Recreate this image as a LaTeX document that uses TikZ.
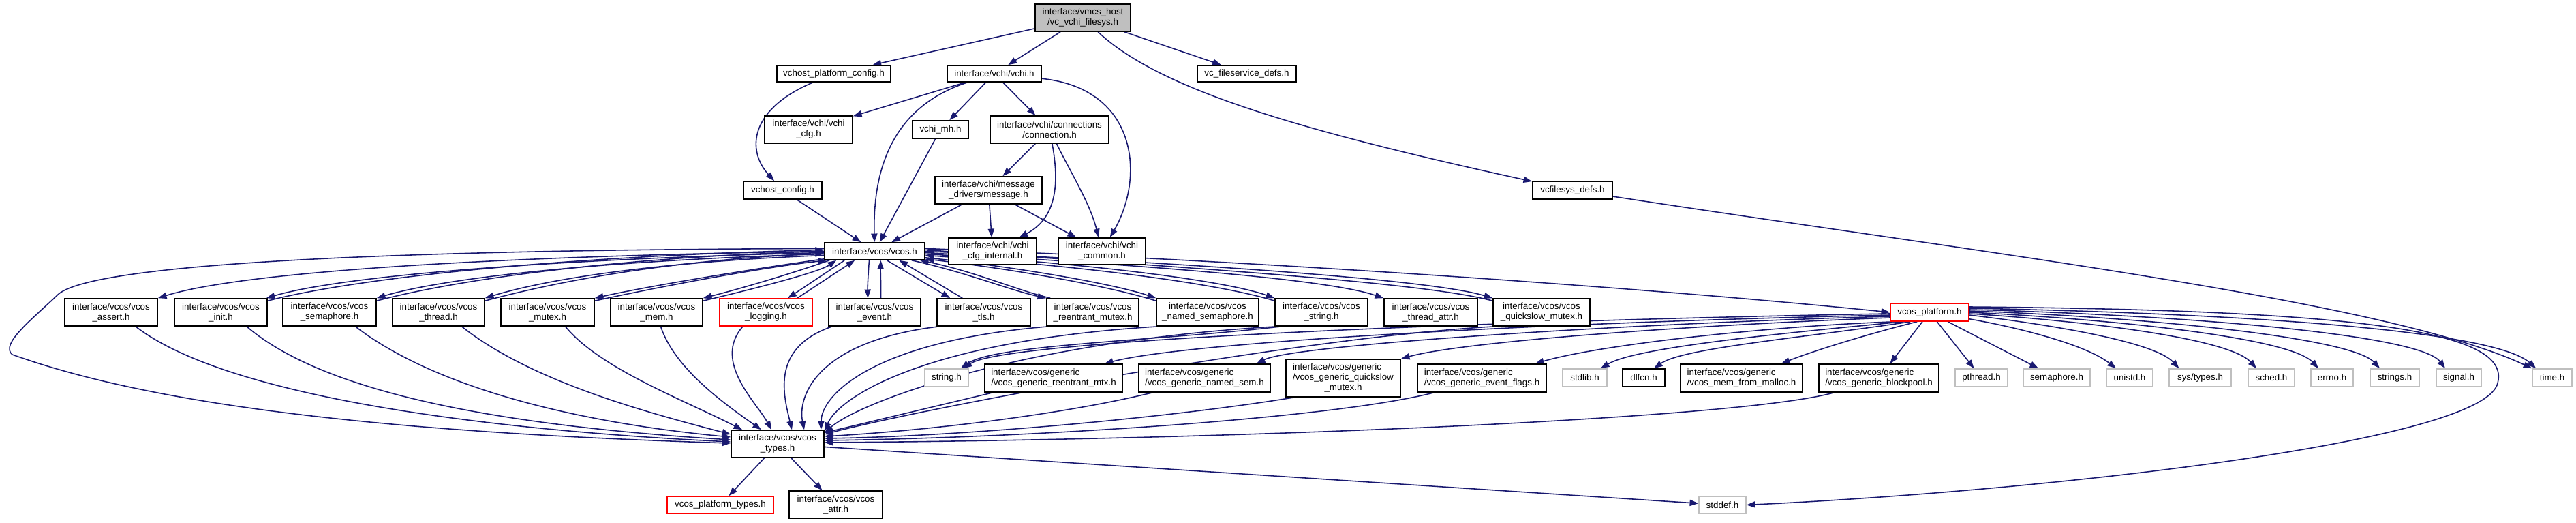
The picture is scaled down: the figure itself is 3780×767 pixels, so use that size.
\documentclass[tikz,border=0pt]{standalone}
\usepackage{fontspec}
\setmainfont{Liberation Sans}
\usetikzlibrary{arrows.meta,calc}
\definecolor{edgec}{HTML}{191970}
\definecolor{grayb}{HTML}{BFBFBF}
\pgfdeclarelayer{bglayer}
\pgfdeclarelayer{edgelayer}
\pgfsetlayers{bglayer,edgelayer,main}
\newcommand\fs{\fontsize{3.8pt}{4.27pt}\selectfont}
\newcommand\bx[7]{\node[#6,minimum width={(#4-#2)*0.28453pt},minimum height={(#5-#3)*0.28453pt}] (#1) at ({(#2+#4)/2},{(#3+#5)/2}) {#7};}
\tikzset{
  box/.style={draw=black, fill=white, line width=0.45pt, inner sep=0pt, align=center, font=\fs},
  lbox/.style={box, align=left},
  sysbox/.style={box, draw=grayb},
  redbox/.style={box, draw=red},
  rootbox/.style={box, fill=grayb},
  e/.style={draw=edgec, line width=0.45pt, -{Triangle[length=3.6pt,width=2.6pt]}},
}
\begin{document}
\begin{tikzpicture}[x=0.01cm,y=-0.01cm]
\begin{pgfonlayer}{bglayer}
\fill[white] (0,0) rectangle (3780,767);
\end{pgfonlayer}
\useasboundingbox (0,0) rectangle (3780,767);
% ---------- nodes ----------
\bx{root}{1519}{6}{1659}{46}{rootbox}{interface/vmcs\_host\\/vc\_vchi\_filesys.h}
\bx{vpc}{1140}{96}{1307}{120}{box}{vchost\_platform\_config.h}
\bx{vchi}{1390}{96}{1528}{120}{box}{interface/vchi/vchi.h}
\bx{vfsd}{1757}{96}{1902}{120}{box}{vc\_fileservice\_defs.h}
\bx{vchicfg}{1122}{170}{1251}{210}{box}{interface/vchi/vchi\\\_cfg.h}
\bx{vchimh}{1339}{177}{1421}{203}{box}{vchi\_mh.h}
\bx{conn}{1453}{170}{1627}{210}{box}{interface/vchi/connections\\/connection.h}
\bx{vhc}{1091}{266}{1206}{292}{box}{vchost\_config.h}
\bx{msg}{1372}{259}{1529}{299}{box}{interface/vchi/message\\\_drivers/message.h}
\bx{vcfs}{2249}{266}{2366}{292}{box}{vcfilesys\_defs.h}
\bx{vcos}{1210}{356}{1357}{381}{box}{interface/vcos/vcos.h}
\bx{cfgint}{1392}{349}{1521}{388}{box}{interface/vchi/vchi\\\_cfg\_internal.h}
\bx{common}{1553}{349}{1681}{388}{box}{interface/vchi/vchi\\\_common.h}
% row of vcos headers
\bx{assert}{95}{438}{231}{478}{box}{interface/vcos/vcos\\\_assert.h}
\bx{init}{256}{438}{392}{478}{box}{interface/vcos/vcos\\\_init.h}
\bx{sema}{415}{438}{552}{478}{box}{interface/vcos/vcos\\\_semaphore.h}
\bx{thread}{576}{438}{711}{478}{box}{interface/vcos/vcos\\\_thread.h}
\bx{mutex}{735}{438}{872}{478}{box}{interface/vcos/vcos\\\_mutex.h}
\bx{mem}{896}{438}{1031}{478}{box}{interface/vcos/vcos\\\_mem.h}
\bx{logging}{1056}{438}{1192}{478}{redbox}{interface/vcos/vcos\\\_logging.h}
\bx{event}{1216}{438}{1351}{478}{box}{interface/vcos/vcos\\\_event.h}
\bx{tls}{1375}{438}{1512}{478}{box}{interface/vcos/vcos\\\_tls.h}
\bx{reent}{1536}{438}{1671}{478}{box}{interface/vcos/vcos\\\_reentrant\_mutex.h}
\bx{namedsem}{1697}{438}{1847}{478}{box}{interface/vcos/vcos\\\_named\_semaphore.h}
\bx{vstring}{1871}{438}{2007}{478}{box}{interface/vcos/vcos\\\_string.h}
\bx{tattr}{2031}{438}{2168}{478}{box}{interface/vcos/vcos\\\_thread\_attr.h}
\bx{qsm}{2191}{438}{2333}{478}{box}{interface/vcos/vcos\\\_quickslow\_mutex.h}
\bx{plat}{2774}{445}{2889}{471}{redbox}{vcos\_platform.h}
% second row
\bx{stringh}{1357}{541}{1421}{567}{sysbox}{string.h}
\bx{greent}{1445}{534}{1647}{575}{lbox}{interface/vcos/generic\\/vcos\_generic\_reentrant\_mtx.h}
\bx{gnamed}{1671}{534}{1864}{575}{lbox}{interface/vcos/generic\\/vcos\_generic\_named\_sem.h}
\bx{gqs}{1887}{527}{2055}{582}{box}{\begin{tabular}{@{}l@{}}interface/vcos/generic\\/vcos\_generic\_quickslow\\\multicolumn{1}{@{}c@{}}{\_mutex.h}\end{tabular}}
\bx{gef}{2080}{534}{2269}{575}{lbox}{interface/vcos/generic\\/vcos\_generic\_event\_flags.h}
\bx{stdlib}{2293}{541}{2358}{567}{sysbox}{stdlib.h}
\bx{dlfcn}{2381}{541}{2443}{567}{box}{dlfcn.h}
\bx{gmm}{2466}{534}{2645}{575}{lbox}{interface/vcos/generic\\/vcos\_mem\_from\_malloc.h}
\bx{gbp}{2669}{534}{2845}{575}{lbox}{interface/vcos/generic\\/vcos\_generic\_blockpool.h}
\bx{pthread}{2869}{541}{2946}{567}{sysbox}{pthread.h}
\bx{semh}{2969}{541}{3067}{567}{sysbox}{semaphore.h}
\bx{unistd}{3091}{541}{3159}{567}{sysbox}{unistd.h}
\bx{systypes}{3183}{541}{3274}{567}{sysbox}{sys/types.h}
\bx{sched}{3299}{541}{3367}{567}{sysbox}{sched.h}
\bx{errno}{3391}{541}{3453}{567}{sysbox}{errno.h}
\bx{strings}{3478}{541}{3550}{567}{sysbox}{strings.h}
\bx{signal}{3575}{541}{3641}{567}{sysbox}{signal.h}
\bx{time}{3716}{541}{3774}{567}{sysbox}{time.h}
% bottom
\bx{types}{1073}{631}{1209}{671}{box}{interface/vcos/vcos\\\_types.h}
\bx{ptypes}{979}{728}{1135}{753}{redbox}{vcos\_platform\_types.h}
\bx{attr}{1158}{720}{1295}{760}{box}{interface/vcos/vcos\\\_attr.h}
\bx{stddef}{2493}{728}{2562}{753}{sysbox}{stddef.h}
\begin{pgfonlayer}{edgelayer}
% ---------- edges: top ----------
\draw[e] (root) -- (vpc);
\draw[e] (root) -- (vchi);
\draw[e] (root) -- (vfsd);
\draw[e] (root) .. controls (1700,130) and (1900,190) .. (vcfs);
\draw[e] (vpc) .. controls (1100,160) and (1095,220) .. (vhc);
\draw[e] (vhc) -- (vcos);
\draw[e] (vchi) -- (vchicfg);
\draw[e] (vchi) -- (vchimh);
\draw[e] (vchi) -- (conn);
\draw[e] (vchi) .. controls (1670,130) and (1680,260) .. (common);
\draw[e] (vchi) .. controls (1330,150) and (1280,220) .. (vcos);
\draw[e] (vchimh) -- (vcos);
\draw[e] (conn) -- (msg);
\draw[e] (conn) .. controls (1555,270) and (1550,320) .. (cfgint);
\draw[e] (conn) .. controls (1575,260) and (1600,300) .. (common);
\draw[e] (msg) -- (vcos);
\draw[e] (msg) -- (cfgint);
\draw[e] (msg) -- (common);
\draw[e] (vcfs) .. controls (2900,370) and (3500,440) .. (time);
% ---------- vcos fan, left ----------
\draw[e] ($(vcos.west)+(0,-4)$) .. controls (600,366) and (130,385) .. (84,433) .. controls (45,470) and (0,505) .. (18,520) .. controls (200,585) and (500,632) .. ($(types.west)+(0,-1)$);
\draw[e] (vcos.west) .. controls (700,376) and (350,400) .. (assert.north east);
\draw[e] ($(vcos.west)+(0,2)$) .. controls (800,380) and (500,405) .. ($(init.north east)+(-2,0)$);
\draw[e] ($(init.north east)+(0,4)$) .. controls (520,408) and (820,376) .. ($(vcos.west)+(0,-2)$);
\draw[e] ($(vcos.west)+(0,4)$) .. controls (880,382) and (650,408) .. (sema.north east);
\draw[e] ($(sema.north east)+(0,4)$) .. controls (670,410) and (900,378) .. ($(vcos.west)+(0,0)$);
\draw[e] ($(vcos.west)+(0,6)$) .. controls (960,384) and (800,410) .. (thread.north east);
\draw[e] ($(thread.north east)+(0,4)$) .. controls (820,412) and (980,382) .. ($(vcos.west)+(0,3)$);
\draw[e] ($(vcos.south west)+(0,-2)$) .. controls (1100,395) and (950,420) .. (mutex.north east);
\draw[e] ($(mutex.north east)+(0,4)$) .. controls (970,420) and (1120,392) .. ($(vcos.south west)+(4,0)$);
\draw[e] ($(vcos.south west)+(8,0)$) .. controls (1150,405) and (1080,425) .. (mem.north east);
\draw[e] ($(mem.north east)+(0,4)$) .. controls (1100,425) and (1200,400) .. ($(vcos.south west)+(18,0)$);
\draw[e] ($(vcos.south west)+(30,0)$) -- ($(logging.north)+(32,0)$);
\draw[e] ($(logging.north)+(46,0)$) -- ($(vcos.south west)+(45,0)$);
\draw[e] ($(vcos.south)+(-8,0)$) .. controls (1274,400) and (1273,420) .. ($(event.north)+(-10,0)$);
\draw[e] ($(event.north)+(9,0)$) .. controls (1293,420) and (1292,400) .. ($(vcos.south)+(9,0)$);
\draw[e] ($(vcos.south)+(18,0)$) -- ($(tls.north west)+(20,0)$);
\draw[e] ($(tls.north west)+(38,0)$) -- ($(vcos.south)+(36,0)$);
% ---------- vcos fan, right ----------
\draw[e] ($(vcos.south east)+(-20,0)$) .. controls (1420,400) and (1480,425) .. (reent.north west);
\draw[e] ($(reent.north west)+(6,0)$) .. controls (1490,425) and (1430,398) .. ($(vcos.south east)+(-8,0)$);
\draw[e] ($(vcos.south east)+(0,-4)$) .. controls (1500,392) and (1640,418) .. (namedsem.north west);
\draw[e] ($(namedsem.north west)+(0,4)$) .. controls (1630,420) and (1490,395) .. ($(vcos.south east)+(0,-2)$);
\draw[e] ($(vcos.east)+(0,4)$) .. controls (1600,386) and (1800,412) .. (vstring.north west);
\draw[e] ($(vstring.north west)+(0,4)$) .. controls (1790,416) and (1590,390) .. ($(vcos.east)+(0,6)$);
\draw[e] ($(vcos.east)+(0,2)$) .. controls (1700,390) and (1950,410) .. (tattr.north west);
\draw[e] ($(vcos.east)+(0,0)$) .. controls (1750,386) and (2100,410) .. (qsm.north west);
\draw[e] ($(qsm.north west)+(0,4)$) .. controls (2090,414) and (1740,392) .. ($(vcos.east)+(0,-2)$);
\draw[e] ($(vcos.east)+(0,-4)$) .. controls (1800,380) and (2400,420) .. (plat.west);
% ---------- row -> types ----------
\draw[e] ($(assert.south)+(36,0)$) .. controls (330,580) and (700,630) .. ($(types.west)+(0,-3)$);
\draw[e] ($(init.south)+(38,0)$) .. controls (480,580) and (750,625) .. ($(types.west)+(0,-6)$);
\draw[e] ($(sema.south)+(38,0)$) .. controls (640,570) and (850,620) .. ($(types.west)+(0,-10)$);
\draw[e] ($(thread.south)+(34,0)$) .. controls (780,560) and (950,605) .. ($(types.west)+(0,-14)$);
\draw[e] ($(mutex.south)+(26,0)$) .. controls (880,540) and (1000,585) .. ($(types.north west)+(17,0)$);
\draw[e] ($(mem.south)+(6,0)$) .. controls (990,540) and (1060,590) .. ($(types.north)+(-24,0)$);
\draw[e] ($(logging.south)+(-34,0)$) .. controls (1045,530) and (1110,590) .. ($(types.north)+(-9,0)$);
\draw[e] ($(event.south west)+(6,0)$) .. controls (1130,510) and (1150,580) .. ($(types.north)+(21,0)$);
\draw[e] ($(tls.south west)+(4,0)$) .. controls (1200,500) and (1170,580) .. ($(types.north)+(39,0)$);
\draw[e] ($(reent.south west)+(4,0)$) .. controls (1280,500) and (1205,580) .. ($(types.north east)+(-5,0)$);
\draw[e] ($(namedsem.south west)+(4,0)$) .. controls (1350,500) and (1230,585) .. ($(types.north east)+(0,2)$);
\draw[e] ($(vstring.south west)+(4,0)$) .. controls (1500,500) and (1260,590) .. ($(types.east)+(0,-16)$);
\draw[e] ($(vstring.south west)+(10,0)$) .. controls (1700,500) and (1460,505) .. ($(stringh.north east)+(-12,0)$);
\draw[e] ($(qsm.south west)+(4,0)$) .. controls (1900,495) and (1350,600) .. ($(types.east)+(0,-14)$);
% ---------- generic -> types ----------
\draw[e] (greent) -- (types);
\draw[e] ($(gnamed.south west)+(21,0)$) .. controls (1550,610) and (1350,632) .. ($(types.east)+(0,-11)$);
\draw[e] ($(gqs.south west)+(13,0)$) .. controls (1700,615) and (1400,640) .. ($(types.east)+(0,-8)$);
\draw[e] ($(gef.south west)+(25,0)$) .. controls (1950,615) and (1500,642) .. ($(types.east)+(0,-5)$);
\draw[e] ($(gbp.south west)+(23,0)$) .. controls (2550,615) and (1800,645) .. ($(types.east)+(0,-2)$);
% ---------- types -> children ----------
\draw[e] (types) -- (ptypes);
\draw[e] (types) -- (attr);
\draw[e] (types) -- (stddef);
% ---------- platform left ----------
\draw[e] ($(plat.west)+(0,2)$) .. controls (2300,468) and (1480,495) .. ($(stringh.north east)+(-8,0)$);
\draw[e] ($(plat.west)+(0,4)$) .. controls (2300,472) and (1750,500) .. ($(greent.north east)+(-27,0)$);
\draw[e] ($(plat.west)+(0,6)$) .. controls (2400,474) and (1900,505) .. ($(gnamed.north east)+(-21,0)$);
\draw[e] ($(plat.west)+(0,8)$) .. controls (2500,476) and (2150,500) .. ($(gqs.north east)+(0,0)$);
\draw[e] ($(plat.south west)+(8,0)$) .. controls (2600,478) and (2350,505) .. ($(gef.north east)+(-17,0)$);
\draw[e] ($(plat.south west)+(20,0)$) .. controls (2600,490) and (2400,510) .. ($(stdlib.north east)+(-10,0)$);
\draw[e] ($(plat.south west)+(30,0)$) .. controls (2650,495) and (2470,510) .. ($(dlfcn.north)+(15,0)$);
\draw[e] ($(plat.south west)+(40,0)$) .. controls (2740,490) and (2660,515) .. ($(gmm.north east)+(-32,0)$);
\draw[e] (plat) -- (gbp);
% ---------- platform right ----------
\draw[e] (plat) -- (pthread);
\draw[e] (plat) -- (semh);
\draw[e] ($(plat.south east)+(0,-4)$) .. controls (2960,480) and (3060,505) .. ($(unistd.north)+(-20,0)$);
\draw[e] ($(plat.east)+(0,4)$) .. controls (3000,475) and (3160,500) .. ($(systypes.north)+(-31,0)$);
\draw[e] ($(plat.east)+(0,2)$) .. controls (3050,470) and (3270,495) .. ($(sched.north)+(-22,0)$);
\draw[e] ($(plat.east)+(0,0)$) .. controls (3100,468) and (3360,495) .. ($(errno.north)+(-20,0)$);
\draw[e] ($(plat.east)+(0,-2)$) .. controls (3150,465) and (3450,495) .. ($(strings.north)+(-22,0)$);
\draw[e] ($(plat.east)+(0,-4)$) .. controls (3200,462) and (3550,490) .. ($(signal.north)+(-20,0)$);
\draw[e] ($(plat.east)+(0,-6)$) .. controls (3300,460) and (3660,485) .. ($(time.north west)+(6,0)$);
\draw[e] ($(plat.east)+(0,-8)$) .. controls (3500,455) and (3690,490) .. (3664,565) .. controls (3630,650) and (3000,720) .. (stddef.east);
\end{pgfonlayer}
\end{tikzpicture}
\end{document}
